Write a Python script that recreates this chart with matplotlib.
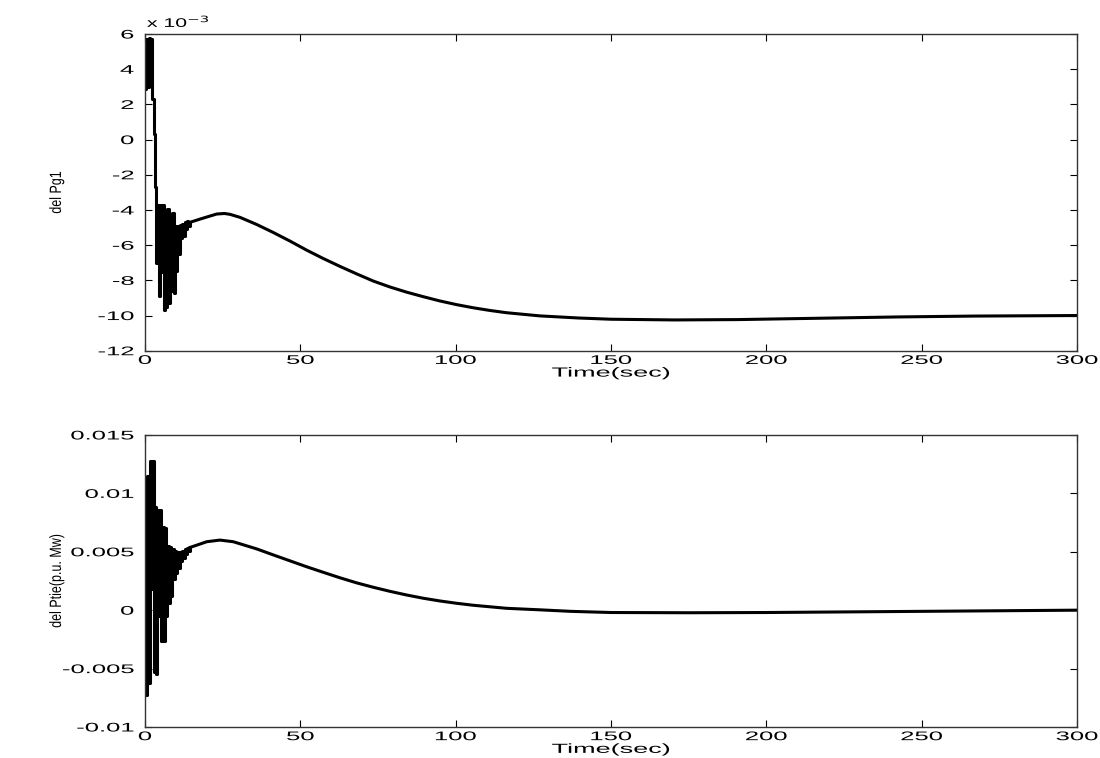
import matplotlib
matplotlib.use("Agg")
import matplotlib.pyplot as plt
from matplotlib.patheffects import AbstractPathEffect
from matplotlib.transforms import Affine2D

plt.rcParams['font.family'] = ['Liberation Sans', 'DejaVu Sans']
plt.rcParams['axes.unicode_minus'] = False

# ---- top panel: del Pg1 (units of 1e-3) ----
# fast oscillation at the start, drawn as a zero-order-hold staircase
pg1_osc_t = [0.0, 0.4, 0.8, 1.2, 1.6, 2.0, 2.4, 2.8, 3.2, 3.6, 4.0, 4.4, 4.8,
             5.2, 5.6, 6.0, 6.4, 6.8, 7.2, 7.6, 8.0, 8.4, 8.8, 9.2, 9.6,
             10.0, 10.4, 10.8, 11.2, 11.6, 12.0, 12.4, 12.8, 13.2, 13.6, 14.0, 14.5]
pg1_osc = [2.9, 5.7, 3.0, 5.8, 3.2, 5.7, 2.3, 0.3, -2.7, -7.0, -3.7, -8.9, -3.7,
           -7.5, -3.7, -9.7, -5.3, -9.5, -3.95, -9.3, -5.0, -8.6, -4.2, -8.7, -4.9,
           -7.45, -4.9, -6.5, -4.85, -5.6, -4.8, -5.5, -4.7, -5.1, -4.6, -4.9, -4.7]
# slow response afterwards
pg1_t = [14.5, 17.7, 19.9, 23.1, 25.6, 27.4, 30.6, 35.9, 41.3, 46.7, 52.0, 57.4,
         62.8, 68.1, 73.5, 78.9, 84.2, 89.6, 94.9, 100.3, 105.7, 111.0, 116.4,
         127.1, 139.6, 150.0, 170.4, 190.9, 201.0, 221.8, 242.3, 267.0, 300.0]
pg1 = [-4.7, -4.52, -4.40, -4.23, -4.20, -4.25, -4.42, -4.82, -5.28, -5.77, -6.28, -6.76,
       -7.21, -7.63, -8.04, -8.38, -8.67, -8.93, -9.17, -9.38, -9.56, -9.71, -9.84,
       -10.02, -10.14, -10.21, -10.25, -10.23, -10.20, -10.14, -10.08, -10.03, -10.0]

# ---- bottom panel: del Ptie (units of 1e-3) ----
ptie_osc_t = pg1_osc_t
ptie_osc = [1.8, -7.3, 11.5, -6.2, 12.8, 1.8, 12.8, -5.3, 8.8, -5.5, 8.6, -0.5, 8.6,
            -2.6, 7.1, -2.6, 7.0, -0.5, 5.5, 0.6, 5.4, 1.2, 5.2, 2.7, 5.1,
            3.2, 5.0, 3.6, 5.0, 4.2, 5.1, 4.5, 5.2, 4.8, 5.3, 5.1, 5.37]
ptie_t = [14.5, 19.9, 24.1, 28.4, 35.9, 41.3, 46.7, 52.0, 57.4, 62.8, 68.1, 73.5,
          78.9, 84.2, 89.6, 94.9, 100.3, 105.7, 116.4, 127.1, 137.0, 150.0, 175.0,
          200.0, 225.0, 250.0, 275.0, 300.0]
ptie = [5.37, 5.86, 6.0, 5.86, 5.25, 4.73, 4.22, 3.72, 3.24, 2.77, 2.34, 1.96,
        1.61, 1.30, 1.02, 0.79, 0.59, 0.42, 0.16, 0.03, -0.1, -0.2, -0.22,
        -0.2, -0.15, -0.1, -0.05, 0.0]

x_ticks = [0, 50, 100, 150, 200, 250, 300]
pg1_ticks = [-12, -10, -8, -6, -4, -2, 0, 2, 4, 6]
ptie_ticks = [-0.01, -0.005, 0, 0.005, 0.01, 0.015]

LW = 2.2
FS = 9
SX = 2.05   # the lettering in the reference is drawn very wide


class Stretch(AbstractPathEffect):
    """Widen text glyphs along their own x (or y) around an anchor."""

    def __init__(self, s, anchor='center', axis='x'):
        super().__init__()
        self.s = s
        self.anchor = anchor
        self.axis = axis

    def draw_path(self, renderer, gc, tpath, affine, rgbFace=None):
        ext = tpath.get_extents()
        if self.axis == 'x':
            lo, hi = ext.x0, ext.x1
        else:
            lo, hi = ext.y0, ext.y1
        if self.anchor == 'left':
            c = lo
        elif self.anchor == 'right':
            c = hi
        else:
            c = (lo + hi) / 2
        if self.axis == 'x':
            t = Affine2D().translate(-c, 0).scale(self.s, 1).translate(c, 0)
        else:
            t = Affine2D().translate(0, -c).scale(1, self.s).translate(0, c)
        renderer.draw_path(gc, tpath, t + affine, rgbFace)


fig = plt.figure(figsize=(11, 7.58), dpi=100)
ax1 = fig.add_axes([0.1318, 0.5373, 0.8473, 0.4178])
ax2 = fig.add_axes([0.1318, 0.0409, 0.8473, 0.3853])


def style(ax, yticks, ylabels, ylabel):
    ax.set_xlim(0, 300)
    ax.set_xticks(x_ticks)
    ax.set_yticks(yticks)
    ax.set_yticklabels(ylabels)
    ax.tick_params(direction='in', top=True, right=True, length=5,
                   labelsize=FS, width=0.8)
    ax.tick_params(axis='x', pad=3)
    ax.tick_params(axis='y', pad=8)
    for s in ax.spines.values():
        s.set_linewidth(1.0)
        s.set_color('#333333')
    for lab in ax.get_xticklabels():
        lab.set_path_effects([Stretch(SX, 'center')])
    for lab in ax.get_yticklabels():
        lab.set_path_effects([Stretch(SX, 'right')])
    xl = ax.set_xlabel('Time(sec)', fontsize=9.5, labelpad=0.5)
    xl.set_path_effects([Stretch(SX, 'center')])
    yl = ax.set_ylabel(ylabel, fontsize=9)
    ax.yaxis.set_label_coords(-0.088, 0.5)
    yl.set_path_effects([Stretch(1.3, 'center', axis='y')])


ax1.step(pg1_osc_t, pg1_osc, where='post', color='black', lw=LW)
ax1.plot(pg1_t, pg1, color='black', lw=LW)
ax1.set_ylim(-12, 6)
style(ax1, pg1_ticks, [str(v) for v in pg1_ticks], 'del Pg1')
off = fig.text(147 / 1100, 1 - 27 / 758, r'x 10$^{-3}$', fontsize=FS,
               ha='left', va='baseline')
off.set_path_effects([Stretch(1.7, 'left')])

ptie_osc_v = [v * 1e-3 for v in ptie_osc]
ptie_v = [v * 1e-3 for v in ptie]
ax2.step(ptie_osc_t, ptie_osc_v, where='post', color='black', lw=LW)
ax2.plot(ptie_t, ptie_v, color='black', lw=LW)
ax2.set_ylim(-0.01, 0.015)
style(ax2, ptie_ticks, ['%g' % v for v in ptie_ticks], 'del Ptie(p.u. Mw)')

fig.savefig('out.png', dpi=100)
